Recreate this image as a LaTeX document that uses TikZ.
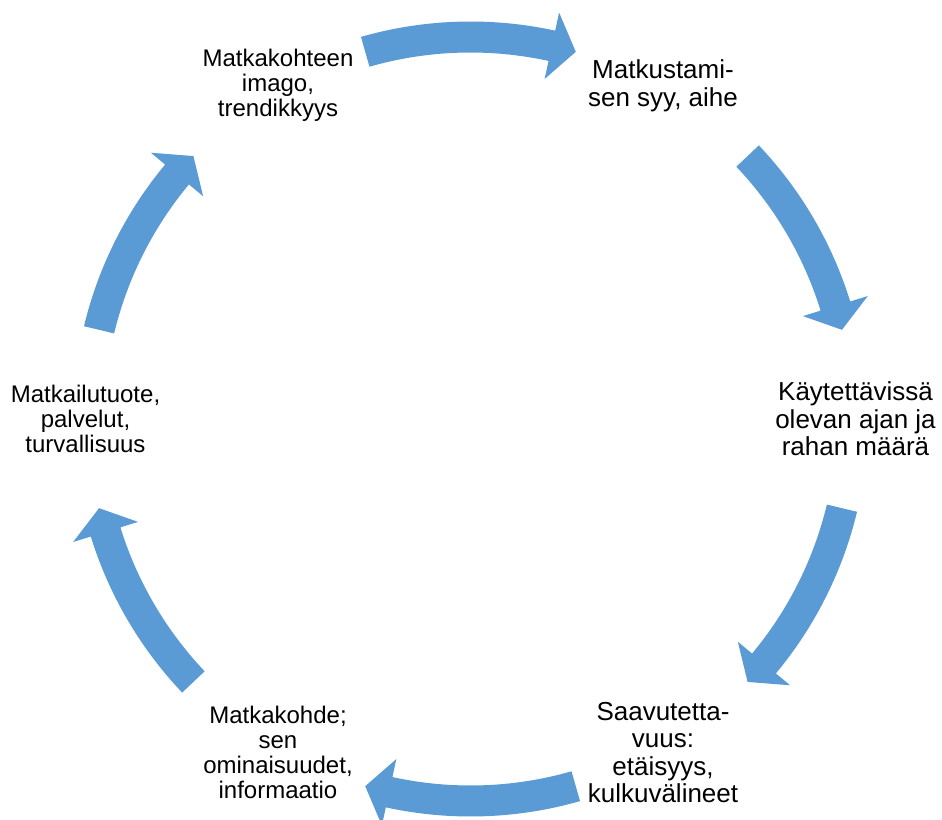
\documentclass[tikz,border=0pt]{standalone}
\usepackage{fontspec}
\setmainfont{Liberation Sans}
\usepackage{xcolor}
\usepackage{tikz}
\definecolor{cycleblue}{HTML}{5B9BD5}
\newcommand{\leftsize}{\fontsize{24}{25}\selectfont}
\newcommand{\rightsize}{\fontsize{26}{27.5}\selectfont}

\begin{document}
\begin{tikzpicture}[x=1pt, y=1pt, inner sep=0pt, align=center,
      stage/.style={text=black}]
    \useasboundingbox (-470.5,-400) rectangle (471.5,419);
    % arrows: start angle / end angle (clockwise)
    \foreach \s/\e in { 106/74, 43.5/13.5, -13.5/-43.5, -74/-106,
      -136.5/-166.5, 166.5/136.5 }{
      \pgfmathsetmacro{\b}{\e+3.7}
      \fill[cycleblue]
      (\s:397.5) arc[start angle=\s, end angle=\b, radius=397.5]
      -- (\b:416) -- (\e:382) -- (\b:348) -- (\b:366.5)
      arc[start angle=\b, end angle=\s, radius=366.5] -- cycle;
    }
    \node[stage, font=\leftsize] (imago) at (120:385)
      {Matkakohteen\\imago,\\trendikkyys};
    \node[stage, font=\rightsize] (syy) at (60:385)
      {Matkustami-\\sen syy, aihe};
    \node[stage, font=\rightsize] (aika) at (0:385)
      {Käytettävissä\\olevan ajan ja\\rahan määrä};
    \node[stage, font=\rightsize] (saavutus) at (-60:385)
      {Saavutetta-\\vuus:\\etäisyys,\\kulkuvälineet};
    \node[stage, font=\leftsize] (kohde) at (-120:385)
      {Matkakohde;\\sen\\ominaisuudet,\\informaatio};
    \node[stage, font=\leftsize] (tuote) at (180:385)
      {Matkailutuote,\\palvelut,\\turvallisuus};
  \end{tikzpicture}
\end{document}
